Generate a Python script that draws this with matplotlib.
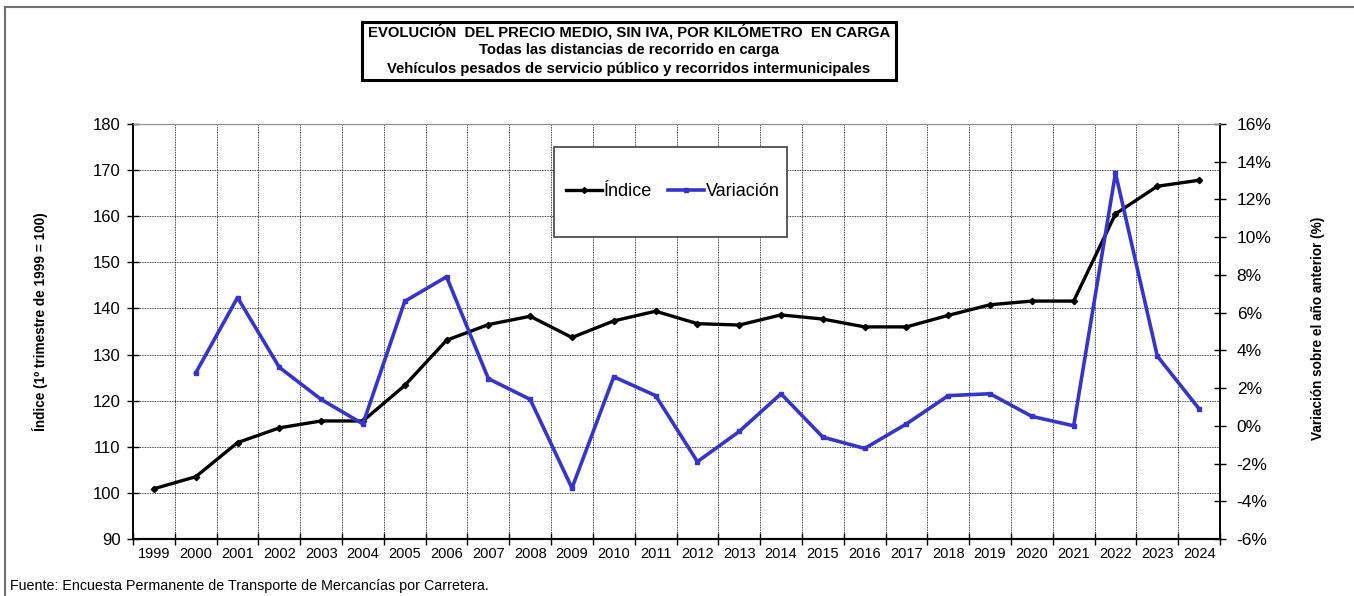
import matplotlib
matplotlib.use('Agg')
import matplotlib.pyplot as plt
from matplotlib.patches import Rectangle
from matplotlib.lines import Line2D
from matplotlib.ticker import FixedLocator, NullFormatter, FuncFormatter
import numpy as np

plt.rc('font', family=['Liberation Sans', 'DejaVu Sans'])

YEARS = list(range(1999, 2025))
INDICE = [100.9, 103.5, 110.9, 114.1, 115.6, 115.6, 123.3, 133.1, 136.5, 138.3,
          133.7, 137.3, 139.4, 136.7, 136.4, 138.6, 137.7, 136.0, 136.0, 138.5,
          140.8, 141.6, 141.6, 160.5, 166.5, 167.8]
# variacion anual (%), no value for 1999
VARIACION = [np.nan, 2.8, 6.8, 3.1, 1.4, 0.1, 6.6, 7.9, 2.5, 1.4,
             -3.3, 2.6, 1.6, -1.9, -0.3, 1.7, -0.6, -1.2, 0.1, 1.6,
             1.7, 0.5, 0.0, 13.4, 3.7, 0.9]

BLUE = '#3535CC'
W, H = 1354, 596


def fx(px):
    return px / W


def fy(py):
    return 1 - py / H


fig = plt.figure(figsize=(W / 100, H / 100), dpi=100)
ax = fig.add_axes([fx(133), fy(539), fx(1220) - fx(133), fy(124) - fy(539)])
ax2 = ax.twinx()

x = np.arange(len(YEARS))
ax.plot(x, INDICE, color='black', lw=2.4, marker='D', ms=3.2, zorder=3)
ax2.plot(x, VARIACION, color=BLUE, lw=2.6, marker='s', ms=3.5, zorder=3)

ax.set_xlim(-0.5, len(YEARS) - 0.5)
ax.set_ylim(90, 180)
ax.set_yticks(np.arange(90, 181, 10))
ax2.set_ylim(-6, 16)
ax2.set_yticks(np.arange(-6, 17, 2))
ax2.yaxis.set_major_formatter(FuncFormatter(lambda v, p: '{:d}%'.format(int(round(v)))))

# categories: ticks/grid at boundaries, labels at centres
ax.xaxis.set_major_locator(FixedLocator(np.arange(-0.5, len(YEARS), 1)))
ax.xaxis.set_major_formatter(NullFormatter())
ax.xaxis.set_minor_locator(FixedLocator(x))
ax.set_xticklabels([str(y) for y in YEARS], minor=True)
ax.tick_params(axis='x', which='minor', length=0, labelsize=10.5, pad=6)
ax.tick_params(axis='x', which='major', direction='inout', length=8, width=1)
ax.tick_params(axis='y', direction='inout', length=8, width=1, labelsize=12, pad=5)
ax2.tick_params(axis='y', direction='inout', length=8, width=1, labelsize=12.5, pad=8)

ax.grid(True, which='major', color='black', linestyle=(0, (1, 1)), lw=0.6)
ax.set_axisbelow(True)

for a in (ax, ax2):
    a.spines['top'].set_color('#909090')
    a.spines['left'].set_linewidth(1.2)
    a.spines['bottom'].set_linewidth(1.5)
    a.spines['right'].set_linewidth(1.2)

fig.text(fx(40), fy(322), 'Índice (1º trimestre de 1999 = 100)', rotation=90,
         ha='center', va='center', fontsize=9.8, fontweight='bold')
fig.text(fx(1318), fy(328), 'Variación sobre el año anterior (%)', rotation=90,
         ha='center', va='center', fontsize=9.8, fontweight='bold')

# title box
fig.patches.append(Rectangle((fx(362), fy(80)), fx(896) - fx(362), fy(22) - fy(80),
                             transform=fig.transFigure, fill=False, ec='black', lw=2.2))
fig.text(fx(629), fy(32), 'EVOLUCIÓN  DEL PRECIO MEDIO, SIN IVA, POR KILÓMETRO  EN CARGA',
         ha='center', va='center', fontsize=10.7, fontweight='bold')
fig.text(fx(629), fy(50), 'Todas las distancias de recorrido en carga',
         ha='center', va='center', fontsize=10.7, fontweight='bold')
fig.text(fx(629), fy(69), 'Vehículos pesados de servicio público y recorridos intermunicipales',
         ha='center', va='center', fontsize=10.7, fontweight='bold')

# legend box
fig.patches.append(Rectangle((fx(554), fy(237)), fx(787) - fx(554), fy(147) - fy(237),
                             transform=fig.transFigure, fc='white', ec='#404040', lw=1.2, zorder=5))
handles = [Line2D([], [], color='black', lw=2.4, marker='D', ms=3),
           Line2D([], [], color=BLUE, lw=2.6, marker='s', ms=3)]
leg = fig.legend(handles, ['Índice', 'Variación'], loc='center',
                 bbox_to_anchor=(fx(673), fy(192)), ncol=2, frameon=False,
                 fontsize=13, handlelength=2.0, handletextpad=0.1, columnspacing=0.9)
leg.set_zorder(6)

# outer chart border
fig.add_artist(Line2D([fx(5), fx(1354)], [fy(7), fy(7)], transform=fig.transFigure,
                      color='#707070', lw=1.5))
fig.add_artist(Line2D([fx(5), fx(5)], [fy(7), fy(596)], transform=fig.transFigure,
                      color='#707070', lw=1.5))

fig.text(fx(10), fy(586), 'Fuente: Encuesta Permanente de Transporte de Mercancías por Carretera.',
         ha='left', va='center', fontsize=10.3)

fig.savefig('out.png', dpi=100)
